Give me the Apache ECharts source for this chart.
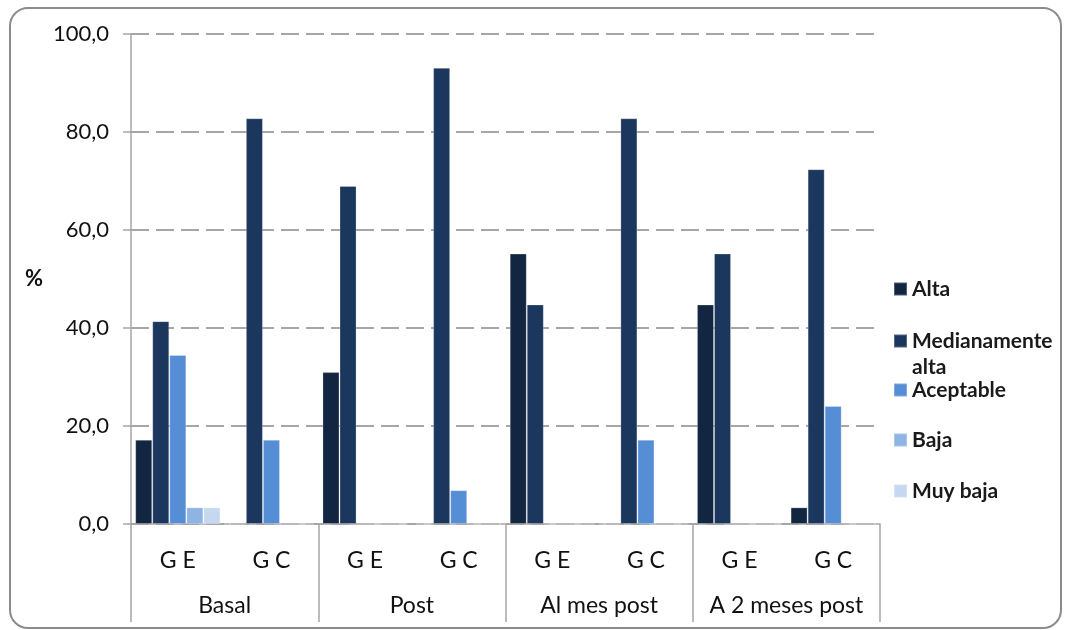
<!DOCTYPE html>
<html>
<head>
<meta charset="utf-8">
<script src="https://cdn.jsdelivr.net/npm/echarts@6/dist/echarts.min.js"></script>
<style>
  html, body { margin: 0; padding: 0; background: #ffffff; }
  #chart { width: 1066px; height: 630px; }
</style>
</head>
<body>
<div id="chart"></div>
<script>
// Subgroups (experimental / control) and measurement moments
const subgroups = ['G E', 'G C', 'G E', 'G C', 'G E', 'G C', 'G E', 'G C'];
const moments = ['Basal', 'Post', 'Al mes post', 'A 2 meses post'];

// Percentage of each level per subgroup
const alta        = [17.2, 0,    31.0, 0,    55.2, 0,    44.8, 3.4];
const medAlta     = [41.4, 82.8, 69.0, 93.1, 44.8, 82.8, 55.2, 72.4];
const aceptable   = [34.5, 17.2, 0,    6.9,  0,    17.2, 0,    24.1];
const baja        = [3.4,  0,    0,    0,    0,    0,    0,    0];
const muyBaja     = [3.4,  0,    0,    0,    0,    0,    0,    0];

const yTicks = { min: 0, max: 100, interval: 20 };

const FONT = 'Lato, "Open Sans", sans-serif';
const GRID_COLOR = '#a6a6a6';

const seriesDefs = [
  { name: 'Alta', data: alta, color: '#132641' },
  { name: 'Medianamente alta', data: medAlta, color: '#1b375e' },
  { name: 'Aceptable', data: aceptable, color: '#568ed6' },
  { name: 'Baja', data: baja, color: '#8fb3e2' },
  { name: 'Muy baja', data: muyBaja, color: '#c5d8f0' }
];

const chart = echarts.init(document.getElementById('chart'), null, { renderer: 'canvas' });

// one legend block per entry so the two-line label keeps its own spacing;
// the wrapped label gets a blank first line so the swatch sits beside "Medianamente"
const legendTops = [277, 302, 378, 428, 479];
const legends = seriesDefs.map((s, i) => ({
  data: [s.name],
  left: 893,
  top: legendTops[i],
  orient: 'vertical',
  padding: 0,
  itemWidth: 13,
  itemHeight: 13,
  icon: 'rect',
  selectedMode: false,
  formatter: (n) => n === 'Medianamente alta' ? ' \nMedianamente\nalta' : n,
  textStyle: s.name === 'Medianamente alta'
    ? { fontFamily: FONT, fontSize: 21, fontWeight: 'bold', color: '#1a1a1a', lineHeight: 26 }
    : { fontFamily: FONT, fontSize: 21, fontWeight: 'bold', color: '#1a1a1a', lineHeight: 24 }
}));

chart.setOption({
  animation: false,
  backgroundColor: '#ffffff',
  textStyle: { fontFamily: FONT },
  graphic: [{
    type: 'rect',
    shape: { x: 10, y: 8, width: 1051, height: 620, r: 18 },
    style: { fill: 'none', stroke: '#8c8c8c', lineWidth: 2 },
    z: -1
  }],
  legend: legends,
  grid: { left: 131, right: 186, top: 34, bottom: 106, containLabel: false },
  xAxis: [
    {
      type: 'category',
      data: subgroups,
      axisLine: { show: true, lineStyle: { color: GRID_COLOR, width: 1.5 } },
      axisTick: { show: false },
      axisLabel: { interval: 0, margin: 25, fontFamily: FONT, fontSize: 23, color: '#111' }
    },
    {
      type: 'category',
      data: moments,
      position: 'bottom',
      axisLine: { show: false },
      axisTick: { show: true, interval: 0, length: 98, lineStyle: { color: GRID_COLOR, width: 1.5 } },
      axisLabel: { interval: 0, margin: 70, fontFamily: FONT, fontSize: 23, color: '#111' }
    }
  ],
  yAxis: {
    type: 'value',
    min: yTicks.min,
    max: yTicks.max,
    interval: yTicks.interval,
    name: '%',
    nameLocation: 'middle',
    nameRotate: 0,
    nameGap: 88,
    nameTextStyle: { fontFamily: FONT, fontSize: 22, fontWeight: 'bold', color: '#111' },
    axisLine: { show: true, lineStyle: { color: GRID_COLOR, width: 1.5 } },
    axisTick: { show: true, length: 8, lineStyle: { color: GRID_COLOR, width: 1.5 } },
    axisLabel: {
      margin: 22,
      fontFamily: FONT,
      fontSize: 22,
      color: '#111',
      formatter: (v) => v.toFixed(1).replace('.', ',')
    },
    splitLine: { show: true, lineStyle: { color: GRID_COLOR, width: 2, type: [18, 7] } }
  },
  series: seriesDefs.map(s => ({
    name: s.name,
    type: 'bar',
    data: s.data,
    barGap: '0%',
    barCategoryGap: '9%',
    itemStyle: { color: s.color, borderColor: 'rgba(255,255,255,0.25)', borderWidth: 1 }
  }))
});
</script>
</body>
</html>
